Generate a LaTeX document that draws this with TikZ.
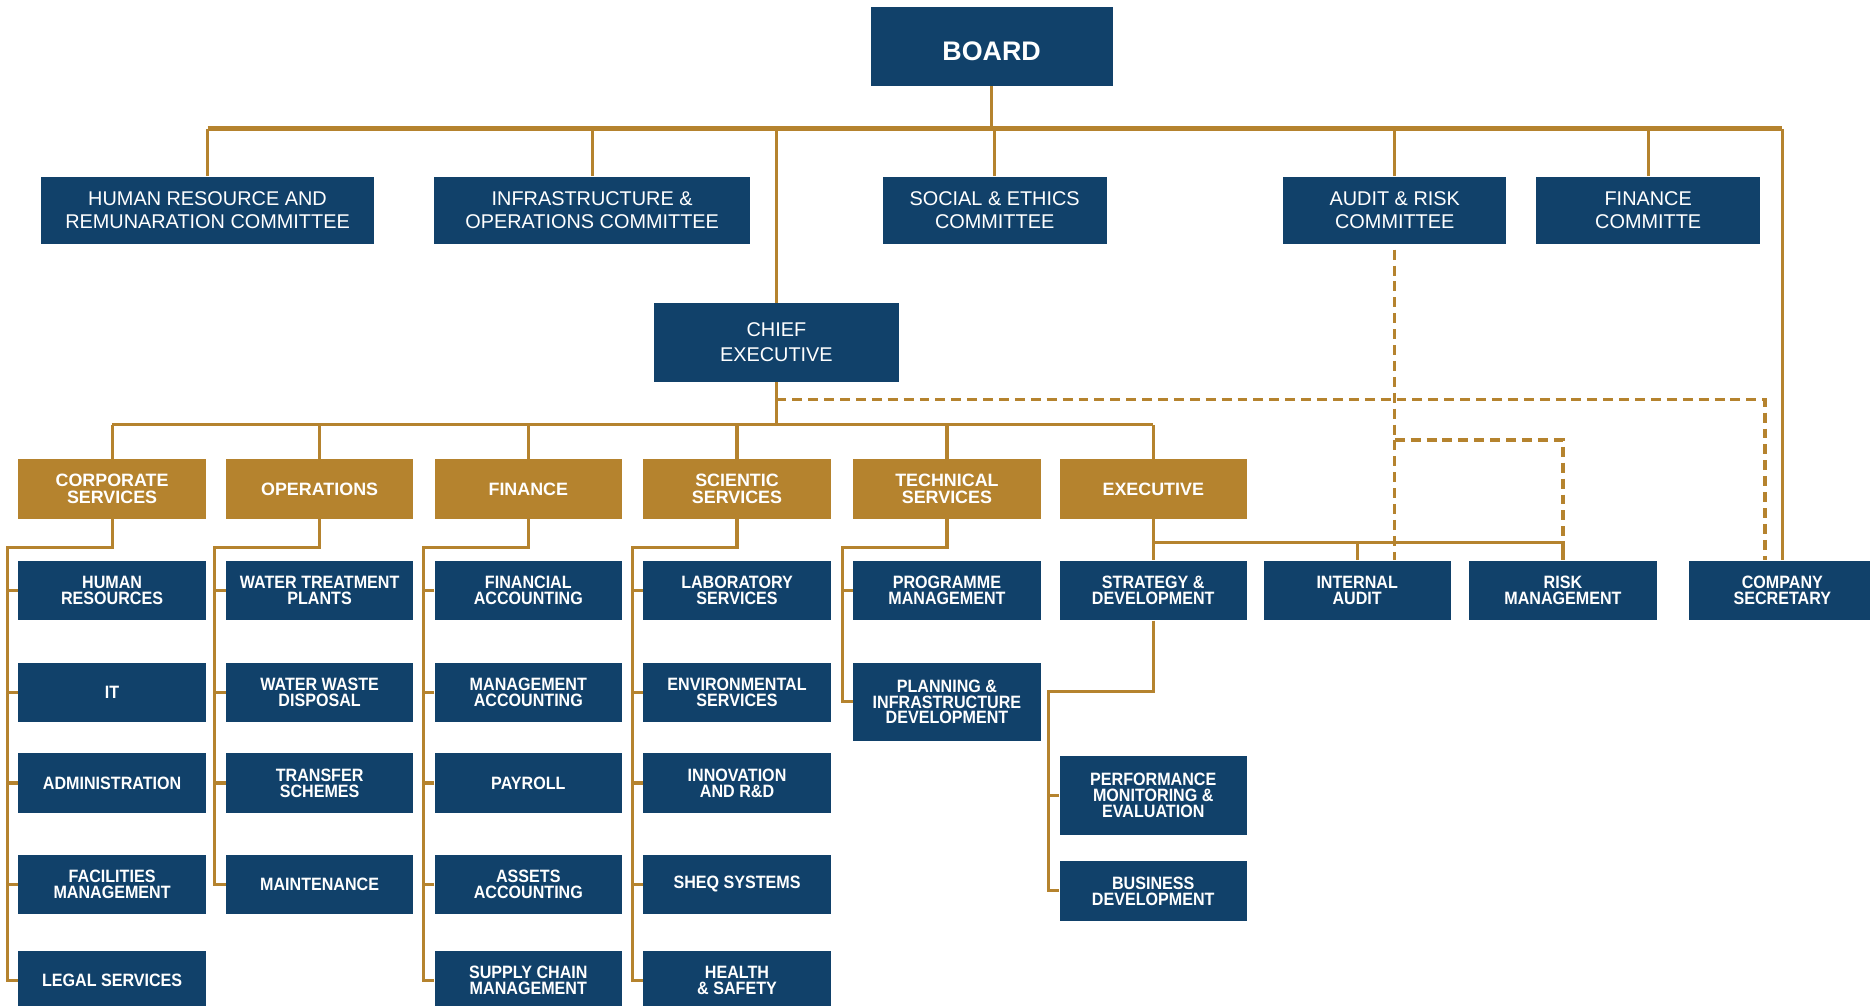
\documentclass[tikz,border=0pt]{standalone}
\usepackage{fontspec}
\setmainfont{Liberation Sans}
\newfontfamily\tightfont{Liberation Sans}[FakeStretch=0.9]
\usepackage{tikz}
\usetikzlibrary{positioning}
\definecolor{navy}{HTML}{11416A}
\definecolor{gold}{HTML}{B5832E}

\begin{document}
\begin{tikzpicture}[x=0.6pt,y=-0.6pt,
  brd/.style={fill=navy,text=white,minimum width=121.8pt,minimum height=39.6pt,inner sep=0pt,
    text height=14.5pt,font=\bfseries\fontsize{13.5}{16}\selectfont},
  cmt/.style={fill=navy,text=white,minimum height=34.2pt,inner sep=0pt,align=center,
    font=\fontsize{10}{11.6}\selectfont},
  dept/.style={fill=gold,text=white,minimum width=94.2pt,minimum height=30pt,inner sep=0pt,align=center,
    font=\bfseries\fontsize{9}{8.4}\selectfont},
  unit/.style={fill=navy,text=white,minimum width=94.2pt,minimum height=30pt,inner sep=0pt,align=center,
    font=\tightfont\bfseries\fontsize{9}{8}\selectfont},
  ln/.style={gold,line width=1.6pt},
  bus/.style={gold,line width=2.4pt},
  dsh/.style={gold,line width=1.6pt,dash pattern=on 5pt off 3pt}]

\useasboundingbox (0,0) rectangle (1568,843);

% --- levels ---
\coordinate (topbus) at (0,108);
\coordinate (dasha)  at (0,335);
\coordinate (deptbus) at (0,356);
\coordinate (dashb)  at (0,369);
\coordinate (exbus)  at (0,455);
\coordinate (jn)     at (0,459);
\coordinate (sjn)    at (0,580);

% --- board and committees ---
\node[brd] (board) at (831.5,39) {BOARD};
\node[cmt,minimum width=168pt] (hrc) at (174,176.5) {HUMAN RESOURCE AND\\REMUNARATION COMMITTEE};
\node[cmt,minimum width=159pt] (ioc) at (496.5,176.5) {INFRASTRUCTURE \&\\OPERATIONS COMMITTEE};
\node[cmt,minimum width=112.8pt] (sec) at (834,176.5) {SOCIAL \& ETHICS\\COMMITTEE};
\node[cmt,minimum width=112.2pt] (arc) at (1169.5,176.5) {AUDIT \& RISK\\COMMITTEE};
\node[cmt,minimum width=112.8pt] (fnc) at (1382,176.5) {FINANCE\\COMMITTE};
\node[cmt,minimum width=123.6pt,minimum height=39.6pt,font=\fontsize{10}{12.6}\selectfont]
  (chief) at (651,287) {CHIEF\\EXECUTIVE};

% --- departments ---
\node[dept] (corp) at (94,410)  {CORPORATE\\SERVICES};
\node[dept] (ops)  at (268,410) {OPERATIONS};
\node[dept] (fin)  at (443,410) {FINANCE};
\node[dept] (sci)  at (618,410) {SCIENTIC\\SERVICES};
\node[dept] (tech) at (794,410) {TECHNICAL\\SERVICES};
\node[dept] (exec) at (967,410) {EXECUTIVE};

% --- units ---
\node[unit] (hr)    at (94,495)   {HUMAN\\RESOURCES};
\node[unit] (it)    at (94,580.5) {IT};
\node[unit] (adm)   at (94,656.5) {ADMINISTRATION};
\node[unit] (fac)   at (94,741.5) {FACILITIES\\MANAGEMENT};
\node[unit] (legal) at (94,822)   {LEGAL SERVICES};

\node[unit] (wtp)   at (268,495)   {WATER TREATMENT\\PLANTS};
\node[unit] (wwd)   at (268,580.5) {WATER WASTE\\DISPOSAL};
\node[unit] (trs)   at (268,656.5) {TRANSFER\\SCHEMES};
\node[unit] (mnt)   at (268,741.5) {MAINTENANCE};

\node[unit] (facc)  at (443,495)   {FINANCIAL\\ACCOUNTING};
\node[unit] (macc)  at (443,580.5) {MANAGEMENT\\ACCOUNTING};
\node[unit] (pay)   at (443,656.5) {PAYROLL};
\node[unit] (aacc)  at (443,741.5) {ASSETS\\ACCOUNTING};
\node[unit] (scm)   at (443,822)   {SUPPLY CHAIN\\MANAGEMENT};

\node[unit] (lab)   at (618,495)   {LABORATORY\\SERVICES};
\node[unit] (env)   at (618,580.5) {ENVIRONMENTAL\\SERVICES};
\node[unit] (inn)   at (618,656.5) {INNOVATION\\AND R\&D};
\node[unit] (sheq)  at (618,741.5) {SHEQ SYSTEMS};
\node[unit] (hs)    at (618,822)   {HEALTH\\\& SAFETY};

\node[unit] (prog)  at (794,495)   {PROGRAMME\\MANAGEMENT};
\node[unit,minimum height=39pt] (plan) at (794,588.5) {PLANNING \&\\INFRASTRUCTURE\\DEVELOPMENT};

\node[unit] (strat) at (967,495) {STRATEGY \&\\DEVELOPMENT};
\node[unit,minimum height=39.6pt] (perf) at (967,667) {PERFORMANCE\\MONITORING \&\\EVALUATION};
\node[unit] (busdev) at (967,747) {BUSINESS\\DEVELOPMENT};

\node[unit] (iaudit) at (1138,495)   {INTERNAL\\AUDIT};
\node[unit] (risk)   at (1310.5,495) {RISK\\MANAGEMENT};
\node[unit] (cosec)  at (1494.5,495) {COMPANY\\SECRETARY};

% --- board lines ---
\draw[ln] (board.south) -- (board |- topbus);
\draw[bus] (hrc |- topbus) -- (cosec |- topbus);
\draw[ln] (cosec |- topbus) -- (cosec.north);
\foreach \c in {hrc,ioc,sec,arc,fnc,chief}
  \draw[ln] (\c.north) -- (\c |- topbus);

% --- chief to departments ---
\draw[ln] (chief.south) -- (chief |- deptbus);
\draw[ln] (corp |- deptbus) -- (exec |- deptbus);
\foreach \d in {corp,ops,fin,sci,tech,exec}
  \draw[ln] (\d.north) -- (\d |- deptbus);

% --- department trees ---
\draw[ln] (corp.south) -- (corp |- jn) -| ([xshift=-5.4pt]legal.west) -- (legal.west);
\draw[ln] (ops.south) -- (ops |- jn) -| ([xshift=-5.4pt]mnt.west) -- (mnt.west);
\draw[ln] (fin.south) -- (fin |- jn) -| ([xshift=-5.4pt]scm.west) -- (scm.west);
\draw[ln] (sci.south) -- (sci |- jn) -| ([xshift=-5.4pt]hs.west) -- (hs.west);
\draw[ln] (tech.south) -- (tech |- jn) -| ([xshift=-5.4pt]plan.west) -- (plan.west);
\foreach \u in {hr,it,adm,fac,wtp,wwd,trs,facc,macc,pay,aacc,lab,env,inn,sheq,prog}
  \draw[ln] (\u.west) -- ++(-5.4pt,0);

% --- executive ---
\draw[ln] (exec.south) -- (strat.north);
\draw[ln] (exec |- exbus) -- (risk |- exbus) -- (risk.north);
\draw[ln] (iaudit |- exbus) -- (iaudit.north);
\draw[ln] (strat.south) -- (strat |- sjn) -| ([xshift=-5.4pt]busdev.west) -- (busdev.west);
\draw[ln] (perf.west) -- ++(-5.4pt,0);

% --- dotted reporting ---
\draw[dsh] (chief |- dasha) -| ([xshift=-8.7pt]cosec.north);
\draw[dsh] ([yshift=-2.4pt]arc.south) -- (arc.south |- iaudit.north);
\draw[dsh] (arc.south |- dashb) -| (risk |- exbus);
\end{tikzpicture}
\end{document}
